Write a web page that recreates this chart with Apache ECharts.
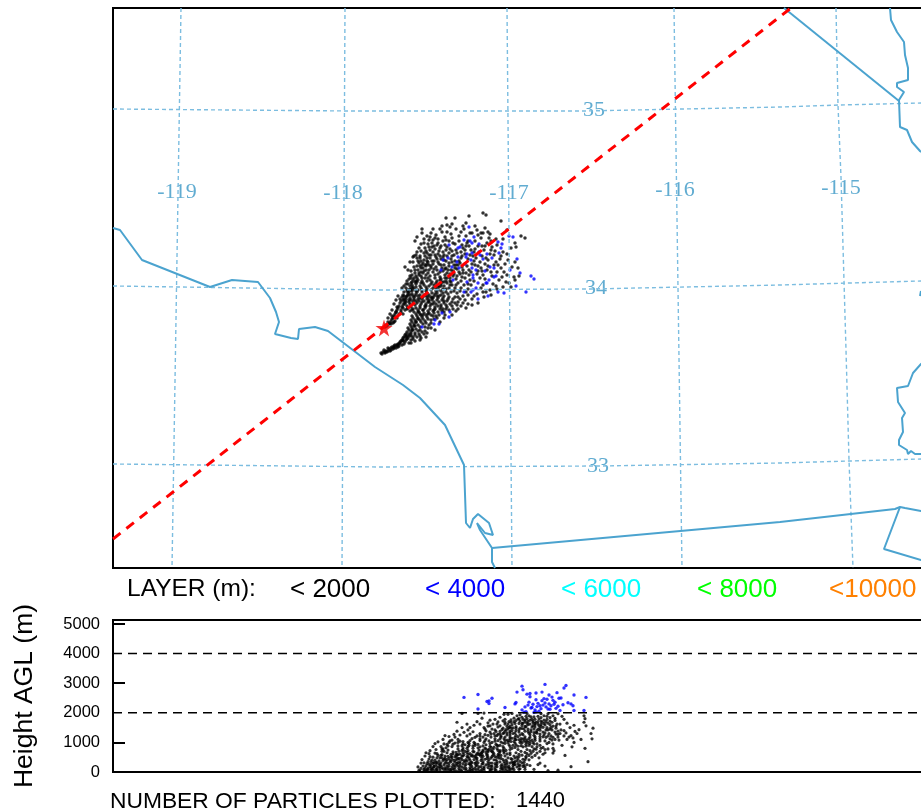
<!DOCTYPE html>
<html>
<head>
<meta charset="utf-8">
<style>html,body{margin:0;padding:0;background:#fff}#c{width:921px;height:810px}</style>
<script src="https://cdn.jsdelivr.net/npm/echarts@6/dist/echarts.min.js"></script>
</head>
<body>
<div id="c"></div>
<script>
// Map panel positions are in picture-read plot units; height panel x shares them, y is metres AGL.
const lon119 = [[181,8],[172,568]];
const lon118 = [[345,8],[342,568]];
const lon117 = [[507,8],[512,568]];
const lon116 = [[674,8],[682,568]];
const lon115 = [[836,8],[838,105],[841,177],[846,350],[849,460],[853,568]];
const lat35 = [[113,109],[350,111],[585,111],[780,107],[840,105],[921,103],[933,103]];
const lat34 = [[113,286],[380,290],[590,289],[780,285],[921,281],[933,281]];
const lat33 = [[113,464],[380,467],[600,466],[780,463],[850,461],[921,459],[933,459]];
const lonLabels = [[177,192,'-119'],[343,193,'-118'],[509,193,'-117'],[675,190,'-116'],[841,188,'-115']];
const latLabels = [[594,110,'35'],[596,288,'34'],[598,466,'33']];
const coast = [[113,228],[120,230],[142,260],[210,287],[232,280],[258,282],[270,298],[276,312],[279,322],[275,334],[291,338],[298,339],[299,329],[315,327],[328,331],[345,344],[375,367],[403,385],[420,398],[445,425],[464,465],[466,523],[470,528],[473,519],[478,514],[489,523],[493,535],[485,533],[477,523],[480,530],[492,548],[492,562],[495,568]];
const mexicoBorder = [[492,548],[780,522],[895,509],[900,507],[905,508],[921,511],[933,512]];
const gulfEdge = [[900,507],[884,549],[921,560],[933,564]];
const azBorder = [[784,8],[899,101]];
const riverNorth = [[890,8],[891,20],[897,32],[904,42],[905,55],[908,68],[908,80],[897,83],[897,87],[904,92],[899,100],[900,127],[907,130],[912,142],[920,151],[933,158]];
const riverSouth = [[933,355],[921,364],[913,373],[908,386],[897,388],[898,402],[905,413],[902,418],[903,432],[899,440],[899,445],[907,450],[908,454],[911,451],[915,454],[933,454]];
const edgeFragment = [[921,291],[920,296]];
const trajectory = [[113,539],[791,8]];
const source = [[384,328]];
const mapBlue = [[469,227],[474,237],[470,241],[472,243],[464,240],[479,244],[458,248],[460,247],[498,242],[502,244],[501,248],[499,253],[509,236],[513,237],[467,254],[466,257],[472,253],[479,252],[480,255],[487,254],[449,245],[443,260],[448,258],[458,257],[457,262],[471,260],[465,264],[492,258],[483,259],[517,259],[441,270],[452,267],[459,268],[472,268],[476,270],[473,275],[473,278],[485,271],[490,267],[494,268],[496,276],[494,277],[489,280],[486,283],[510,270],[520,273],[531,276],[534,279],[453,280],[467,282],[478,283],[476,288],[473,290],[487,283],[464,292],[471,292],[498,292],[504,293],[488,296],[478,299],[516,286],[526,292],[442,313],[449,317],[450,312],[435,320],[439,324],[434,324],[422,327]];
const mapBlack = [[483,213],[486,215],[446,218],[455,218],[469,216],[466,223],[501,221],[447,225],[450,227],[422,229],[422,233],[433,229],[461,232],[477,230],[485,228],[488,232],[490,234],[507,230],[417,237],[521,236],[525,238],[515,243],[516,247],[405,267],[413,257],
[427,236],[436,235],[442,232],[451,234],[456,229],[466,236],[481,238],[496,239],[429,240],[438,239],[445,237],[452,238],[459,241],[487,243],[492,247],[421,244],[432,243],[437,245],[443,241],[455,244],[462,245],[469,246],[425,248],[429,247],[435,249],[440,248],[446,250],[452,251],[465,250],[475,249],[484,250],[495,251],[417,252],[421,251],[427,253],[433,252],[438,254],[444,255],[449,253],[454,255],[461,252],[470,255],[476,258],[490,254],[503,252],[414,256],[420,258],[425,256],[430,258],[436,257],[441,259],[446,261],[451,259],[455,261],[461,258],[468,259],[474,261],[480,262],[486,258],[496,262],[508,260],[413,262],[418,261],[423,263],[428,262],[433,264],[438,262],[444,265],[449,263],[454,265],[460,263],[467,266],[472,264],[478,266],[485,264],[498,265],[515,262],[417,266],[421,268],[426,266],[431,268],[436,267],[441,265],[446,268],[451,270],[457,269],[463,270],[469,270],[481,268],[487,270],[501,268],[411,271],[415,270],[419,273],[424,271],[428,273],[433,272],[438,274],[443,271],[447,273],[454,274],[460,274],[466,273],[477,274],[483,275],[491,272],[504,272],[412,275],[416,276],[421,276],[425,278],[430,276],[435,278],[440,277],[445,278],[450,278],[456,279],[462,277],[470,280],[480,278],[502,277],[409,279],[413,280],[418,280],[422,281],[427,281],[432,282],[437,281],[442,282],[447,283],[452,285],[458,283],[464,285],[471,285],[483,285],[493,284],[515,280],[519,276],[408,284],[412,285],[416,284],[420,286],[424,285],[429,286],[434,285],[439,287],[444,286],[449,288],[455,288],[461,288],[468,289],[490,290],[511,287],[406,288],[410,289],[414,289],[418,290],[422,290],[426,291],[431,290],[436,291],[441,291],[446,292],[451,292],[457,293],[463,296],[483,292],[404,292],[408,293],[412,294],[416,294],[420,295],[424,295],[429,295],[434,296],[439,296],[444,296],[449,297],[455,297],[460,299],[402,297],[406,297],[410,298],[414,298],[418,299],[422,299],[427,299],[432,300],[437,300],[442,300],[447,301],[452,302],[458,302],[465,300],[401,301],[405,301],[409,302],[413,302],[417,303],[421,304],[426,304],[431,304],[436,304],[441,305],[446,305],[452,306],[461,306],[468,304],[399,306],[403,305],[407,306],[411,307],[416,308],[420,308],[425,308],[430,309],[435,309],[440,309],[446,309],[397,310],[401,310],[405,310],[410,311],[414,312],[419,312],[424,313],[429,313],[434,313],[439,315],[444,318],[456,311],[395,314],[399,314],[403,314],[412,316],[417,316],[422,317],[427,317],[433,316],[393,318],[397,318],[411,320],[415,320],[420,320],[425,321],[431,320],[391,321],[395,321],[410,324],[414,324],[418,325],[423,324],[429,325],[389,324],[393,323],[387,326],[391,324],[385,327],[408,328],[412,328],[416,329],[420,330],[425,331],[407,332],[411,332],[415,333],[419,334],[424,334],[405,335],[409,336],[413,337],[417,337],[403,338],[407,339],[411,340],[415,341],[401,341],[405,342],[409,343],[398,344],[402,345],[395,345],[399,346],[392,347],[396,348],[389,349],[393,349],[386,351],[390,351],[383,352],[387,352],[381,353],[385,353],
[404,303],[406,299],[407,296],[409,292],[411,290],[413,287],[415,282],[417,278],[419,275],[421,272],[423,268],[425,265],[427,261],[429,255],[443,252],[439,251],[447,247],[441,246],[449,241],[434,246],[430,250],[424,260],[422,265],[418,270],[414,278],[412,282],[410,286],[408,290],[403,300],[396,312],[392,316],[388,322],[386,325],[384,350],[388,348],[391,348],[394,346],[397,345],[400,343],[403,341],[406,337],[409,334],[412,330],[414,326],[416,322],[418,318],[420,314],[423,310],[426,306],[429,302],[432,298],[435,294],[438,290],[441,286],[444,282],[447,278],[450,274],[453,271],[456,265],[459,261],[462,256],[466,246],[470,233],[475,241],[482,246],[491,241],[503,239],[511,248],[497,272],[506,282],[496,286],[477,294],[468,295],[472,299],[455,303],[449,310],[442,311],[437,318],[428,328],[421,338]];
const mapBlackFill = [[431,233],[424,239],[440,229],[447,232],[428,244],[419,248],[435,238],[446,240],[453,243],[459,236],[464,229],[472,233],[478,235],[483,233],[468,241],[426,251],[431,255],[416,255],[419,263],[424,253],[437,259],[434,261],[443,257],[447,256],[452,262],[457,253],[463,248],[474,252],[482,256],[488,260],[494,255],[500,259],[505,264],[512,267],[507,275],[499,280],[492,276],[485,279],[478,271],[471,272],[465,278],[459,272],[453,276],[448,270],[442,268],[437,270],[431,266],[426,270],[420,266],[415,273],[410,276],[407,281],[411,283],[416,287],[421,283],[426,287],[431,284],[436,288],[441,284],[446,289],[451,282],[456,285],[461,281],[468,284],[474,281],[481,288],[486,292],[474,296],[466,292],[460,291],[454,291],[448,294],[443,293],[437,293],[432,293],[427,293],[422,292],[417,292],[412,291],[407,291],[403,295],[408,295],[413,296],[418,296],[423,297],[428,297],[433,298],[438,298],[443,298],[448,299],[453,299],[458,297],[463,303],[457,305],[450,304],[444,303],[439,302],[434,302],[429,300],[424,301],[419,301],[414,300],[409,300],[404,299],[400,303],[405,304],[410,304],[415,305],[420,306],[425,306],[430,306],[435,307],[441,307],[447,307],[453,309],[398,308],[403,308],[408,308],[413,309],[418,310],[423,310],[428,311],[433,311],[438,312],[444,312],[396,312],[401,312],[416,314],[421,315],[426,315],[431,315],[436,316],[394,316],[413,318],[418,319],[423,319],[428,319],[434,319],[392,319],[412,322],[416,322],[421,322],[426,323],[431,323],[390,323],[394,322],[411,326],[415,326],[420,327],[425,327],[431,328],[409,330],[413,330],[418,331],[422,332],[427,333],[406,334],[411,334],[415,335],[420,336],[404,337],[408,338],[413,339],[402,340],[406,340],[411,343],[400,342],[404,344],[397,346],[394,348],[391,350],[388,351],[385,352],[382,354],[398,347],[420,340],[426,337],[435,330],[440,322],[445,315],[452,315],[458,309],[466,308],[472,305],[478,303],[484,297],[491,295],[497,289],[503,287],[509,283],[514,277],[518,268],[507,254],[497,245],[489,238],[481,233],[475,226],[463,226],[452,224],[442,226],[430,237],[415,241],[410,262],[408,270],[420,256],[432,247],[427,258],[445,245],[450,249],[456,250],[467,243],[471,250],[478,246],[485,246],[491,250],[501,256],[473,256],[465,254],[458,265],[452,256],[440,256],[435,255],[429,265],[423,273],[417,282],[404,286],[406,284],[402,288],[398,296],[396,300],[394,304],[392,310],[390,314],[388,318],[475,265],[482,271],[488,266],[494,265],[469,275],[463,273],[457,276],[450,281],[445,275],[440,280],[435,275],[428,278],[423,283],[416,281],[411,278]];
const mapBlackExtra = [[438,243],[433,240],[424,243],[417,258],[414,267],[421,261],[427,264],[432,261],[439,264],[444,260],[449,266],[455,268],[462,267],[429,270],[434,269],[440,272],[445,269],[422,278],[426,275],[430,280],[436,283],[441,279],[446,281],[450,285],[412,288],[416,291],[421,288],[427,289],[433,288],[438,286],[443,289],[404,296],[410,295],[415,296],[420,298],[426,296],[431,297],[437,296],[441,295],[444,301],[400,299],[406,302],[411,300],[416,301],[422,302],[428,302],[433,304],[438,306],[443,309],[397,307],[402,307],[407,309],[412,310],[418,312],[423,315],[428,314],[434,310],[411,336],[407,336],[403,340],[399,344],[394,347]];
const heightBlue = [[464,2520],[478,2620],[478,2130],[492,2490],[489,2400],[487,2380],[489,2310],[505,2180],[517,2700],[522,2900],[523,2780],[545,2960],[566,2920],[564,2840],[574,2600],[586,2520],[584,2080],[515,2300],[516,2350],[527,2630],[530,2540],[528,2260],[532,2180],[534,2010],[526,2040],[536,2030],[538,2320],[540,2240],[542,2410],[544,2480],[547,2460],[549,2300],[551,2240],[553,2420],[555,2360],[557,2680],[559,2490],[560,2080],[563,2270],[568,2340],[571,2300],[573,2240],[574,2080],[522,2100],[524,2020],[529,2360],[531,2160],[533,2290],[535,2100],[537,2210],[539,2050],[541,2140],[543,2260],[546,2200],[548,2130],[550,2120],[552,2530],[554,2290],[556,2150],[558,2220],[525,2200],[530,2650],[536,2670],[542,2700],[549,2600],[536,2440],[545,2330],[561,2500]];
const heightBlack = [[462,1980],[478,1980],[484,1990],[504,1950],[508,1950],[512,1980],[527,1980],[541,1970],[548,1970],[558,1970],[562,1880],[564,1780],[584,1900],[585,1800],[584,1680],[586,1560],[592,1120],[591,1300],[593,1480],[585,800],[581,1100],[588,350],[571,180],[565,560],[572,850],[573,1150],[560,1300],[555,1100],[562,900],[553,640],[540,300],[539,480],[545,650],[545,200],[553,950],[564,1400],[570,1500],[567,1650],[575,1370],
[445,1230],[449,1200],[438,1020],[444,950],[452,1080],[458,1100],[463,1030],[467,1220],[457,1380],[462,1500],[457,1680],[467,1620],[477,1700],[474,1580],[484,1500],[490,1750],[488,1660],[495,1780],[497,1620],[482,1820],[500,1850],[505,1780],[509,1700],[514,1820],[517,1900],[522,1850],[527,1800],[531,1860],[535,1780],[538,1880],[544,1900],[550,1840],[555,1740],[560,1620],[556,1550],[548,1650],[541,1720],[533,1670],[525,1700],[519,1640],[512,1600],[505,1620],[498,1520],[492,1450],[486,1390],[480,1300],[473,1360],[468,1420],[460,1250],[454,1270],[450,1050],[446,820],[441,860],[436,760],[433,860],[429,620],[425,540],[422,420],[428,350],[433,500],[437,620],[442,700],[448,880],[453,940],[458,780],[462,890],[468,1000],[472,1130],[477,1220],[483,1180],[488,1240],[494,1300],[500,1370],[506,1430],[511,1480],[516,1530],[522,1570],[528,1600],[535,1590],[541,1550],[547,1500],[552,1420],[558,1380],[549,1300],[543,1350],[537,1400],[531,1420],[525,1380],[519,1350],[513,1300],[507,1250],[501,1180],[495,1120],[489,1050],[484,1000],[478,930],[473,880],[467,800],[462,730],[456,660],[451,600],[445,540],[440,480],[435,400],[431,340],[427,280],[423,200],[421,120],[419,60],[425,130],[430,190],[436,250],[441,310],[446,370],[452,430],[457,490],[463,540],[468,600],[474,680],[479,740],[485,810],[490,870],[496,940],[501,1010],[507,1080],[512,1140],[518,1190],[523,1260],[529,1310],[534,1240],[540,1200],[546,1170],[540,1050],[533,1000],[527,1080],[521,1050],[515,980],[509,920],[503,860],[497,790],[491,720],[486,660],[480,590],[475,520],[469,460],[464,380],[458,320],[453,260],[447,200],[442,150],[437,90],[431,60],[426,40],[433,120],[439,170],[444,240],[449,290],[455,150],[460,200],[466,260],[471,330],[477,390],[482,450],[488,510],[493,570],[499,630],[504,700],[510,760],[515,830],[521,890],[526,940],[532,860],[537,850],[527,760],[521,700],[516,650],[510,590],[505,540],[499,470],[494,410],[488,350],[483,290],[477,230],[472,170],[466,120],[461,70],[456,40],[450,90],[445,60],[440,40],[434,30],[451,30],[462,30],[472,60],[478,110],[484,170],[489,220],[495,280],[500,340],[506,400],[511,450],[517,510],[522,570],[512,340],[517,380],[523,430],[507,270],[501,210],[495,150],[490,100],[484,60],[479,40],[468,20],[490,30],[496,60],[502,110],[507,170],[513,220],[518,280],[524,330],[512,100],[506,60],[500,30],[510,30],[520,110],[525,170],[530,220],[532,500],[537,640],[527,620],[543,600],[533,700],[548,780],[553,800],[549,1000],[559,1080],[567,1100],[574,1000],[510,1320],[515,1100],[523,1120],[529,1130],[535,1130],[544,1250],[551,1220],[556,1280],[503,1300],[497,1230],[491,1180],[486,1120],[480,1060],[474,1000],[469,900],[463,820],[457,590],[451,520],[445,460],[439,380],[434,320],[429,260],[424,90],[428,130],[434,190],[440,240],[445,300],[451,350],[456,410],[461,470],[467,520],[472,580],[478,650],[483,700],[489,770],[494,840],[500,900],[505,970],[511,1030],[516,1090],[521,1130],[504,640],[498,580],[492,520],[487,460],[481,390],[476,320],[470,260],[465,210],[459,130],[454,80],[448,140],[443,100],[437,40],[432,90],[427,60],[475,130],[481,180],[486,240],[492,300],[497,350],[503,420],[508,480],[514,540],[519,600],[525,660],[530,720],[536,770],[541,800],[540,900],[534,950],[528,1000],[522,980],[516,920],[510,860],[504,800],[498,730],[493,660],[487,600],[481,530],[476,470],[470,400],[465,340],[460,280],[454,210],[473,800],[468,720],[463,650],[458,590],[480,850],[486,920],[492,1000],[498,1060],[504,1120],[510,1180],[516,1240],[522,1300],[528,1370],[534,1450],[540,1480],[546,1420],[540,1280],[534,1330],[528,1450],[522,1470],[516,1400],[510,1370],[504,1320],[498,1280],[514,1700],[520,1720],[526,1530],[532,1520],[538,1620],[544,1640],[550,1600],[556,1480],[561,1420],[532,1780],[526,1880],[520,1930],[538,1700],[544,1750],[550,1720],[509,1500],[503,1480]];
const heightBlackFill = [[424,310],[429,440],[434,190],[438,560],[443,390],[447,650],[452,170],[456,560],[460,350],[465,700],[470,150],[474,420],[479,590],[483,350],[488,150],[492,690],[497,500],[502,250],[507,610],[512,430],[517,170],[522,310],[526,480],[428,90],[433,290],[437,170],[442,480],[447,300],[451,80],[455,330],[460,600],[464,120],[469,280],[473,530],[478,310],[482,90],[487,560],[491,190],[496,410],[501,560],[505,130],[510,300],[515,470],[520,230],[525,90],[430,520],[435,640],[440,120],[444,700],[449,460],[453,610],[458,210],[462,420],[467,660],[472,320],[476,210],[481,640],[485,430],[490,300],[495,70],[499,550],[504,350],[509,190],[514,80],[518,440],[523,190],[527,250],[431,150],[436,330],[441,560],[446,110],[450,380],[455,510],[459,700],[463,280],[468,510],[473,90],[477,610],[482,270],[486,770],[491,470],[496,230],[500,720],[505,280],[510,650],[515,350],[519,520],[443,780],[448,740],[453,680],[458,880],[463,760],[468,860],[473,700],[478,820],[483,880],[488,680],[493,770],[498,880],[503,740],[508,1000],[513,900],[518,760],[523,850],[529,900],[534,780],[455,980],[460,1040],[465,920],[470,1060],[475,960],[480,1120],[485,1060],[490,960],[495,1040],[500,1120],[505,1060],[510,1120],[515,1170],[520,1000],[525,1120],[530,1040],[535,1070],[470,1280],[475,1170],[480,1220],[485,1260],[490,1350],[495,1220],[500,1280],[505,1180],[510,1250],[515,1320],[520,1250],[525,1190],[530,1260],[535,1190],[540,1120],[545,1050],[550,1120],[485,1450],[490,1560],[495,1420],[500,1560],[505,1380],[510,1540],[515,1640],[520,1480],[525,1540],[530,1620],[535,1520],[540,1410],[545,1320],[550,1450],[555,1350],[480,1620],[488,1550],[498,1690],[503,1730],[508,1620],[513,1490],[518,1790],[523,1650],[528,1710],[533,1570],[538,1450],[543,1510],[548,1420],[553,1550],[558,1270],[523,1780],[529,1900],[534,1860],[539,1790],[542,1680],[547,1780],[552,1680],[555,1810],[545,1590],[536,1680],[511,1680],[516,1740],[507,1540],[493,1620],[470,1500],[464,1340],[455,1180],[449,1000],[443,1100],[435,960],[430,720],[426,650],[421,300],[418,170],[420,30],[424,40],[456,230],[462,540],[466,60],[471,230],[476,60],[482,590],[491,60],[497,180],[503,60],[508,40],[513,150],[519,200],[524,240],[529,410],[534,90],[548,50],[558,60],[538,250],[526,870],[532,1080],[537,950],[543,830],[547,960],[552,1080],[558,1180],[566,1320],[571,1230],[577,1300],[574,1580],[579,1430],[569,1180],[564,1220],[554,720],[545,760],[540,700],[535,560],[531,630],[529,560],[526,530],[520,360],[515,250],[509,130]];
const heightBlackBase = [[426,210],[431,250],[436,90],[441,210],[445,140],[449,210],[453,110],[457,290],[462,170],[467,370],[470,90],[475,290],[479,170],[484,120],[488,270],[492,110],[497,280],[501,130],[505,210],[510,110],[514,260],[519,90],[432,400],[439,280],[444,430],[448,530],[454,390],[459,460],[466,420],[471,540],[477,470],[483,530],[489,420],[495,520],[501,460],[507,340],[513,290],[483,740],[491,830],[497,900],[503,980],[509,1060],[514,1030],[519,1090],[526,1020],[530,960],[501,1220],[507,1320],[512,1400],[519,1420],[524,1460],[531,1360],[537,1310],[543,1190],[548,1220],[553,1170],[491,1280],[496,1370],[502,1430],[508,1450],[516,1480],[522,1640],[527,1650],[533,1720],[539,1560],[546,1700],[551,1510],[557,1620],[505,1680],[511,1760],[519,1800],[525,1760],[530,1750],[535,1640],[541,1840],[547,1880],[553,1900],[541,1610],[536,1340],[530,1180],[524,1040],[518,870],[512,800],[506,730],[500,680],[494,610],[488,730],[482,660],[476,570],[470,620],[464,590],[458,430],[452,510],[447,420],[442,590],[437,480],[437,320],[448,60],[459,60],[470,40],[481,40],[492,200],[503,170],[514,330],[525,410],[475,900],[469,970],[463,950],[458,1000],[452,860],[447,930],[442,780]];
const yTicks = [0,1000,2000,3000,4000,5000];
const minorTicks = [1000,3000,5000];
const guideHeights = [2000,4000];
const layerLabels = ['LAYER (m):','< 2000','< 4000','< 6000','< 8000','<10000'];
const layerColors = ['#000000','#000000','#0000ff','#00ffff','#00ff00','#ff8000'];
const layerFont = [24.5,26,26,26,26,26];
const layerX = [127,290,425,561,697,829];
const particleCount = 1440;

const geo = '#4ba3cf', grat = '#7cbde0';
const gratLine = d => ({type:'line',data:d,xAxisIndex:0,yAxisIndex:0,symbol:'none',silent:true,animation:false,lineStyle:{color:grat,width:1.4,type:[4,3]}});
const geoLine = d => ({type:'line',data:d,xAxisIndex:0,yAxisIndex:0,symbol:'none',silent:true,animation:false,lineStyle:{color:geo,width:2}});
const textPts = d => ({type:'scatter',data:d,xAxisIndex:0,yAxisIndex:0,symbolSize:0,silent:true,animation:false,
  label:{show:true,position:'inside',formatter:p=>p.value[2],fontFamily:'Liberation Serif',fontSize:22,color:'#3a97c6'}});
const dots = (d,c,x,y,s) => ({type:'scatter',data:d,xAxisIndex:x,yAxisIndex:y,symbolSize:s,silent:true,animation:false,large:false,itemStyle:{color:c}});

const chart = echarts.init(document.getElementById('c'),null,{renderer:'canvas'});
chart.setOption({
  animation:false,
  backgroundColor:'#fff',
  grid:[
    {left:113,top:8,width:820,height:560,outerBoundsMode:'none',show:true,borderColor:'#000',borderWidth:2,backgroundColor:'transparent'},
    {left:113,top:620,width:820,height:152,outerBoundsMode:'none',show:true,borderColor:'#000',borderWidth:2,backgroundColor:'transparent'}
  ],
  xAxis:[
    {gridIndex:0,type:'value',min:113,max:933,show:false},
    {gridIndex:1,type:'value',min:113,max:933,show:false}
  ],
  yAxis:[
    {gridIndex:0,type:'value',min:8,max:568,inverse:true,show:false},
    {gridIndex:1,type:'value',min:0,max:5135,interval:1000,splitLine:{show:false},
     axisLine:{show:true,lineStyle:{color:'#000',width:2}},
     axisTick:{show:true,inside:true,length:12,customValues:minorTicks,lineStyle:{color:'#000',width:2}},
     axisLabel:{show:true,customValues:yTicks,formatter:v=>String(v),margin:13,padding:[10,0,0,0],fontFamily:'Liberation Sans',fontSize:16.5,color:'#000'}}
  ],
  graphic:[
    ...layerLabels.map((t,i)=>({type:'text',left:layerX[i],top:577,silent:true,style:{text:t,fill:layerColors[i],font:layerFont[i]+'px "Liberation Sans"'}})),
    {type:'text',silent:true,x:25,y:696,rotation:Math.PI/2,style:{text:'Height AGL (m)',fill:'#000',font:'26.5px "Liberation Sans"',textAlign:'center',textVerticalAlign:'middle'}},
    {type:'text',silent:true,left:110,top:790,style:{text:'NUMBER OF PARTICLES PLOTTED:',fill:'#000',font:'22.8px "Liberation Sans"'}},
    {type:'text',silent:true,left:516,top:790,style:{text:String(particleCount),fill:'#000',font:'22px "Liberation Sans"'}}
  ],
  series:[
    gratLine(lon119),gratLine(lon118),gratLine(lon117),gratLine(lon116),gratLine(lon115),
    gratLine(lat35),gratLine(lat34),gratLine(lat33),
    geoLine(coast),geoLine(mexicoBorder),geoLine(gulfEdge),geoLine(azBorder),geoLine(riverNorth),geoLine(riverSouth),geoLine(edgeFragment),
    textPts(lonLabels),textPts(latLabels),
    {type:'line',data:trajectory,xAxisIndex:0,yAxisIndex:0,symbol:'none',silent:true,animation:false,lineStyle:{color:'#ff0000',width:3,type:[9.5,7.5]}},
    dots(mapBlack,'#000',0,0,3.5),
    dots(mapBlackFill,'#000',0,0,3.5),
    dots(mapBlackExtra,'#000',0,0,3.5),
    dots(mapBlue,'#0000ff',0,0,3.4),
    {type:'scatter',data:source,xAxisIndex:0,yAxisIndex:0,symbol:'path://M50 0L61 35L98 35L68 57L79 92L50 70L21 92L32 57L2 35L39 35Z',symbolSize:17,silent:true,animation:false,itemStyle:{color:'#f00000'}},
    ...guideHeights.map(h=>({type:'line',data:[[113,h],[933,h]],xAxisIndex:1,yAxisIndex:1,symbol:'none',silent:true,animation:false,lineStyle:{color:'#000',width:1.5,type:[9,6]}})),
    dots(heightBlack,'#000',1,1,3.2),
    dots(heightBlackFill,'#000',1,1,3.2),
    dots(heightBlackBase,'#000',1,1,3.2),
    dots(heightBlue,'#0000ff',1,1,3.4)
  ]
});
</script>
</body>
</html>
